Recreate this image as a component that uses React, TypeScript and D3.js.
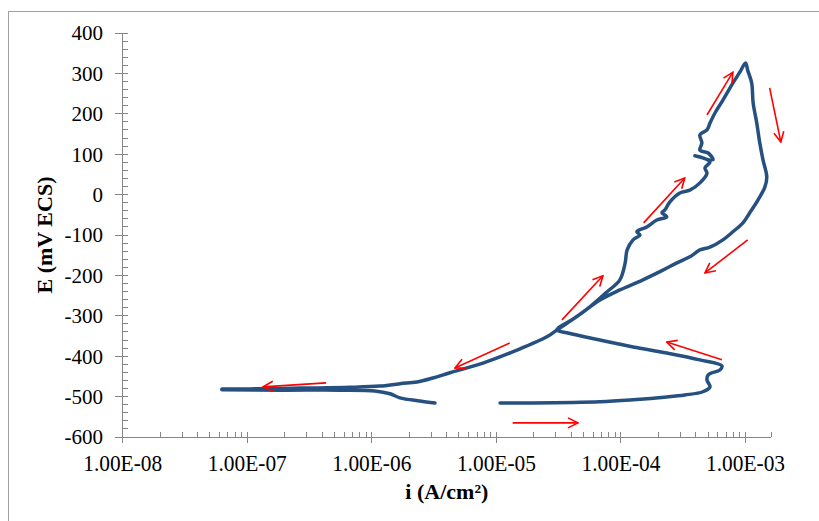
import React, { useEffect, useRef } from 'react';
import * as d3 from 'd3';

const width = 819;
const height = 521;
const margin = { top: 33, right: 48, bottom: 84, left: 122.7 };

// main scan: bottom line -> loop -> junction -> anodic hysteresis loop -> back down to the left
const scanI = [
  1.07e-5, 1.96e-5, 6.78e-5, 1.25e-4, 2.33e-4, 3.25e-4, 4.54e-4, 5.18e-4, 4.9e-4, 5.01e-4, 6.22e-4, 6.46e-4,
  4.3e-4, 2.33e-4, 1.25e-4, 6.78e-5, 3.68e-5, 3.06e-5,
  4.27e-5, 5.62e-5, 7.71e-5, 9.79e-5, 1.08e-4, 1.12e-4, 1.25e-4, 1.42e-4, 1.34e-4, 1.61e-4,
  1.94e-4, 2.33e-4, 2.13e-4, 2.25e-4, 2.47e-4, 2.97e-4, 3.57e-4, 4.3e-4, 4.9e-4, 4.72e-4,
  5.18e-4, 4.54e-4, 3.92e-4, 5.47e-4, 5.01e-4, 4.3e-4, 4.46e-4, 4.3e-4, 4.9e-4, 5.18e-4,
  5.68e-4, 6.58e-4, 7.91e-4, 8.99e-4, 1.0e-3,
  1.04e-3, 1.12e-3, 1.15e-3, 1.23e-3, 1.3e-3, 1.38e-3, 1.48e-3, 1.43e-3, 1.26e-3, 1.08e-3,
  9.53e-4, 7.91e-4, 6.58e-4, 5.18e-4, 4.3e-4, 3.57e-4, 2.81e-4, 2.17e-4, 1.5e-4, 9.79e-5,
  6.78e-5, 4.51e-5, 3.06e-5,
  2.54e-5, 1.46e-5, 7.8e-6, 4.24e-6, 3.09e-6, 2.3e-6, 1.68e-6, 1.16e-6, 6.67e-7, 2.65e-7,
  1.05e-7, 6.26e-8,
];
const scanE = [
  -516, -516, -513, -508, -501, -496, -488, -476, -459, -446, -434, -424,
  -409, -392, -377, -360, -342, -335,
  -305, -278, -241, -211, -169, -137, -112, -100, -92, -80,
  -63, -55, -45, -38, -18, 4, 11, 29, 53, 66,
  81, 91, 96, 86, 103, 110, 128, 148, 160, 177,
  202, 234, 276, 303, 326,
  308, 276, 227, 177, 128, 86, 44, 19, -13, -45,
  -70, -92, -112, -130, -137, -154, -169, -187, -211, -236,
  -261, -300, -335,
  -352, -385, -417, -441, -454, -464, -468, -474, -477, -479,
  -481, -481,
];

// short cathodic branch starting near 3e-6
const tailI = [3.21e-6, 2.43e-6, 1.68e-6, 1.4e-6, 1.06e-6, 5.55e-7, 1.83e-7, 6.26e-8];
const tailE = [-516, -511, -503, -493, -486, -484, -484, -483];

// red direction arrows (tail -> head)
const arrowFromI = [1.35e-5, 1.28e-5, 4.29e-7, 6.46e-4, 3.36e-5, 1.52e-4, 4.9e-4, 1.56e-3, 1.04e-3];
const arrowFromE = [-565, -367, -466, -409, -310, -70, 197, 264, -112];
const arrowToI = [4.51e-5, 4.65e-6, 1.34e-7, 2.33e-4, 7.16e-5, 3.25e-4, 7.91e-4, 1.92e-3, 4.72e-4];
const arrowToE = [-565, -429, -476, -365, -201, 41, 303, 130, -194];

const xMin = 1e-8;
const xMax = 1.6e-3;
const xTicks = [1e-8, 1e-7, 1e-6, 1e-5, 1e-4, 1e-3];
const xTickLabels = ['1.00E-08', '1.00E-07', '1.00E-06', '1.00E-05', '1.00E-04', '1.00E-03'];
const yTicks = [400, 300, 200, 100, 0, -100, -200, -300, -400, -500, -600];

const axisColor = '#868686';
const curveColor = '#25507f';

function PolarizationChart() {
  const ref = useRef<SVGSVGElement>(null);

  useEffect(() => {
    const svg = d3.select(ref.current);
    svg.selectAll('*').remove();

    const x = d3.scaleLog().domain([xMin, xMax]).range([margin.left, width - margin.right]);
    const y = d3.scaleLinear().domain([-600, 400]).range([height - margin.bottom, margin.top]);
    const x0 = x(xMin);
    const y0 = y(-600);

    // outer frame
    svg.append('rect')
      .attr('x', 8.5).attr('y', 11.5)
      .attr('width', 900).attr('height', 600)
      .attr('fill', 'none').attr('stroke', '#a0a0a0');

    const axes = svg.append('g').attr('stroke', axisColor).attr('stroke-width', 1).attr('shape-rendering', 'crispEdges');

    // y axis
    axes.append('line').attr('x1', x0).attr('x2', x0).attr('y1', y(400)).attr('y2', y0);
    yTicks.forEach(t => {
      axes.append('line').attr('x1', x0 - 8).attr('x2', x0 + 5).attr('y1', y(t)).attr('y2', y(t));
    });
    d3.range(-600, 400, 20).filter(v => v % 100 !== 0).forEach(v => {
      axes.append('line').attr('x1', x0).attr('x2', x0 + 5).attr('y1', y(v)).attr('y2', y(v));
    });

    // x axis
    axes.append('line').attr('x1', x0).attr('x2', x(xMax)).attr('y1', y0).attr('y2', y0);
    xTicks.forEach(t => {
      axes.append('line').attr('x1', x(t)).attr('x2', x(t)).attr('y1', y0 - 5).attr('y2', y0 + 6);
    });
    const minor: number[] = [];
    xTicks.forEach(t => {
      for (let m = 2; m <= 9; m++) if (t * m < xMax) minor.push(t * m);
    });
    minor.push(xMax);
    minor.forEach(t => {
      axes.append('line').attr('x1', x(t)).attr('x2', x(t)).attr('y1', y0 - 5).attr('y2', y0);
    });

    // tick labels
    svg.append('g')
      .selectAll('text')
      .data(yTicks)
      .join('text')
      .attr('x', 103)
      .attr('y', d => y(d) + 7.3)
      .attr('text-anchor', 'end')
      .attr('font-family', '"Liberation Serif", serif')
      .attr('font-size', 21)
      .attr('fill', '#000')
      .text(d => d);

    svg.append('g')
      .selectAll('text')
      .data(xTicks)
      .join('text')
      .attr('x', d => x(d) - 39.5)
      .attr('y', 471)
      .attr('font-family', '"Liberation Serif", serif')
      .attr('font-size', 24)
      .attr('textLength', 79)
      .attr('lengthAdjust', 'spacingAndGlyphs')
      .attr('fill', '#000')
      .text((d, i) => xTickLabels[i]);

    // axis titles
    svg.append('text')
      .attr('x', (x0 + x(xMax)) / 2)
      .attr('y', 499)
      .attr('text-anchor', 'middle')
      .attr('font-family', '"Liberation Serif", serif')
      .attr('font-weight', 'bold')
      .attr('font-size', 22)
      .text('i (A/cm²)');

    svg.append('text')
      .attr('transform', 'translate(52,235) rotate(-90)')
      .attr('text-anchor', 'middle')
      .attr('font-family', '"Liberation Serif", serif')
      .attr('font-weight', 'bold')
      .attr('font-size', 22)
      .text('E (mV ECS)');

    // curves
    const line = d3.line<[number, number]>()
      .x(d => x(d[0]))
      .y(d => y(d[1]))
      .curve(d3.curveCatmullRom.alpha(0.5));

    const scan = scanI.map((v, i) => [v, scanE[i]] as [number, number]);
    const tail = tailI.map((v, i) => [v, tailE[i]] as [number, number]);

    [tail, scan].forEach(pts => {
      svg.append('path')
        .datum(pts)
        .attr('fill', 'none')
        .attr('stroke', curveColor)
        .attr('stroke-width', 3.5)
        .attr('stroke-linejoin', 'round')
        .attr('stroke-linecap', 'round')
        .attr('d', line);
    });

    // arrows
    const defs = svg.append('defs');
    defs.append('marker')
      .attr('id', 'redhead')
      .attr('markerUnits', 'userSpaceOnUse')
      .attr('viewBox', '0 0 12 12')
      .attr('refX', 11).attr('refY', 6)
      .attr('markerWidth', 12).attr('markerHeight', 12)
      .attr('orient', 'auto')
      .append('path')
      .attr('d', 'M1,1 L11,6 L1,11')
      .attr('fill', 'none')
      .attr('stroke', '#ff0000')
      .attr('stroke-width', 1.6);

    svg.append('g')
      .selectAll('line')
      .data(arrowFromI)
      .join('line')
      .attr('x1', d => x(d))
      .attr('y1', (d, i) => y(arrowFromE[i]))
      .attr('x2', (d, i) => x(arrowToI[i]))
      .attr('y2', (d, i) => y(arrowToE[i]))
      .attr('stroke', '#ff0000')
      .attr('stroke-width', 1.6)
      .attr('marker-end', 'url(#redhead)');
  }, []);

  return (
    <svg
      ref={ref}
      width={width}
      height={height}
      style={{ position: 'absolute', left: 0, top: 0, background: '#fff' }}
    />
  );
}

export default function App() {
  return <PolarizationChart />;
}
